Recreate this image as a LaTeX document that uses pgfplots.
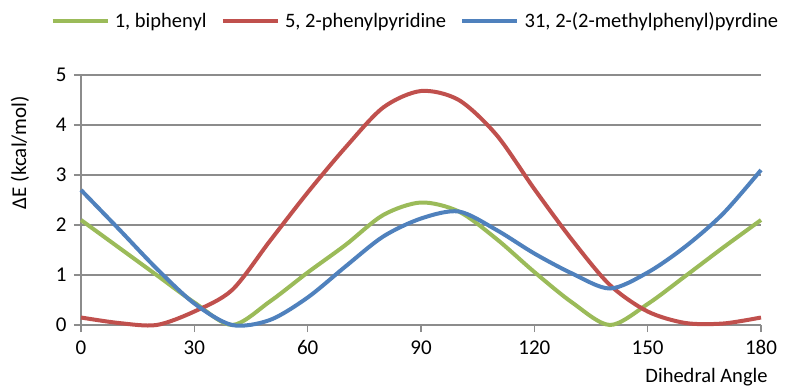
\documentclass[border=0pt]{standalone}
\usepackage{fontspec}
\setmainfont{Carlito}
\usepackage{pgfplots}
\pgfplotsset{compat=1.18}
\definecolor{cgreen}{HTML}{9BBB59}
\definecolor{cred}{HTML}{C0504D}
\definecolor{cblue}{HTML}{4F81BD}
\definecolor{cgrid}{HTML}{8C8C8C}
\begin{document}
\begin{tikzpicture}
\begin{axis}[
 scale only axis, width=680bp, height=250bp,
 xmin=0,xmax=180,ymin=0,ymax=5,
 xtick={0,30,...,180}, ytick={0,1,...,5},
 axis x line*=bottom, axis y line*=left,
 axis line style={cgrid, line width=1.3bp, -},
 ymajorgrids, grid style={cgrid, line width=1.3bp},
 tick style={cgrid, line width=1.3bp},
 major tick length=7bp,
 xtick align=outside, ytick align=outside,
 clip=false,
 font=\fontsize{21bp}{25bp}\selectfont,
 /pgf/number format/assume math mode=true,
 xticklabel style={yshift=-5bp},
 yticklabel style={xshift=-4bp},
 ylabel={ΔE (kcal/mol)},
 ylabel style={at={(rel axis cs:-0.0897,0.69)}, anchor=center, rotate=0},
 xlabel={Dihedral Angle},
 xlabel style={at={(rel axis cs:1.0100,-0.208)}, anchor=east, inner sep=0bp, font=\fontsize{20.5bp}{24bp}\selectfont},
 legend columns=3,
 legend style={at={(rel axis cs:0.490,1.216)}, anchor=center, draw=none, fill=none,
   font=\fontsize{20.5bp}{24bp}\selectfont,
   nodes={inner sep=0bp},
   /tikz/every odd column/.append style={column sep=5bp},
   /tikz/every even column/.append style={column sep=14bp}},
 legend image code/.code={\draw[#1, line width=4.5bp] (0bp,0bp) -- (55bp,0bp);},
 every axis plot/.append style={line width=4bp, smooth, tension=0.5, no markers},
]
\addplot[cgreen] coordinates {(0,2.1) (10,1.55) (20,1.0) (30,0.45) (40,0) (50,0.47) (60,1.05) (70,1.6) (80,2.2) (90,2.45) (100,2.27) (110,1.72) (120,1.06) (130,0.45) (140,0) (150,0.42) (160,0.98) (170,1.55) (180,2.1)};
\addlegendentry{1, biphenyl}
\addplot[cred] coordinates {(0,0.15) (10,0.04) (20,0.0) (30,0.27) (40,0.7) (50,1.68) (60,2.65) (70,3.55) (80,4.35) (90,4.68) (100,4.5) (110,3.8) (120,2.72) (130,1.7) (140,0.8) (150,0.27) (160,0.04) (170,0.03) (180,0.15)};
\addlegendentry{5, 2-phenylpyridine}
\addplot[cblue] coordinates {(0,2.7) (10,1.92) (20,1.13) (30,0.43) (40,0) (50,0.1) (60,0.55) (70,1.17) (80,1.77) (90,2.13) (100,2.27) (110,1.9) (120,1.43) (130,1.03) (140,0.73) (150,1.05) (160,1.57) (170,2.23) (180,3.1)};
\addlegendentry{31, 2-(2-methylphenyl)pyrdine}
\coordinate (O) at (rel axis cs:0,0);
\end{axis}
\pgfresetboundingbox
\path (O) ++(-81bp,-64bp) rectangle ++(786bp,389bp);
\end{tikzpicture}
\end{document}
